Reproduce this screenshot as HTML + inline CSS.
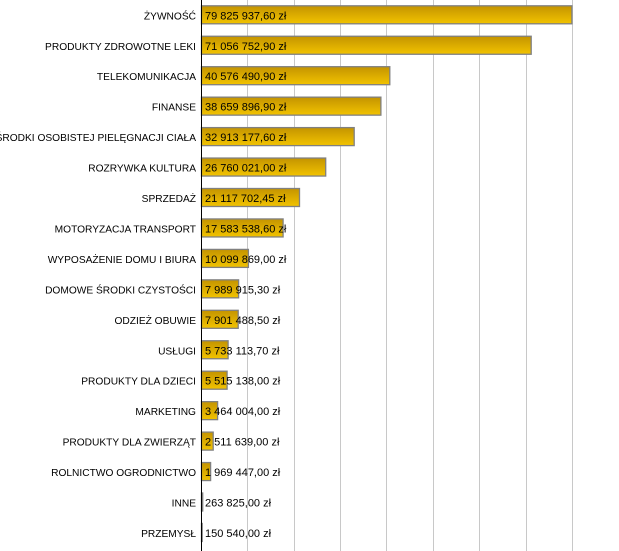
<!DOCTYPE html>
<html><head><meta charset="utf-8"><style>html,body{margin:0;padding:0;background:#fff}svg{display:block}text{font-family:"Liberation Sans",sans-serif;font-size:11px;fill:#000}.l text{font-size:10.2px}</style></head><body>
<svg width="619" height="551" xmlns="http://www.w3.org/2000/svg">
<defs><linearGradient id="g" x1="0" y1="0" x2="0" y2="1"><stop offset="0" stop-color="#c49400"/><stop offset="1" stop-color="#f2c300"/></linearGradient></defs>
<g stroke="#c8c8c8" stroke-width="1">
<line x1="247.5" y1="0" x2="247.5" y2="551"/><line x1="294.5" y1="0" x2="294.5" y2="551"/><line x1="340.5" y1="0" x2="340.5" y2="551"/><line x1="386.5" y1="0" x2="386.5" y2="551"/><line x1="433.5" y1="0" x2="433.5" y2="551"/><line x1="479.5" y1="0" x2="479.5" y2="551"/><line x1="526.5" y1="0" x2="526.5" y2="551"/><line x1="572.5" y1="0" x2="572.5" y2="551"/></g>
<g fill="url(#g)" stroke="#808080" stroke-width="1.3">
<rect x="201.5" y="5.8" width="370.4" height="18"/>
<rect x="201.5" y="36.25" width="329.7" height="18"/>
<rect x="201.5" y="66.7" width="188.3" height="18"/>
<rect x="201.5" y="97.15" width="179.4" height="18"/>
<rect x="201.5" y="127.6" width="152.7" height="18"/>
<rect x="201.5" y="158.05" width="124.2" height="18"/>
<rect x="201.5" y="188.5" width="98" height="18"/>
<rect x="201.5" y="218.95" width="81.6" height="18"/>
<rect x="201.5" y="249.4" width="46.9" height="18"/>
<rect x="201.5" y="279.85" width="37.1" height="18"/>
<rect x="201.5" y="310.3" width="36.7" height="18"/>
<rect x="201.5" y="340.75" width="26.6" height="18"/>
<rect x="201.5" y="371.2" width="25.6" height="18"/>
<rect x="201.5" y="401.65" width="16.1" height="18"/>
<rect x="201.5" y="432.1" width="11.7" height="18"/>
<rect x="201.5" y="462.55" width="9.1" height="18"/>
<rect x="201.5" y="493" width="1.2" height="18"/>
<rect x="201.5" y="523.45" width="0.7" height="18"/>
</g>
<line x1="201.5" y1="0" x2="201.5" y2="551" stroke="#000"/>
<g class="l" text-anchor="end">
<text x="196" y="19.3">ŻYWNOŚĆ</text>
<text x="196" y="49.75">PRODUKTY ZDROWOTNE LEKI</text>
<text x="196" y="80.2">TELEKOMUNIKACJA</text>
<text x="196" y="110.65">FINANSE</text>
<text x="196" y="141.1">ŚRODKI OSOBISTEJ PIELĘGNACJI CIAŁA</text>
<text x="196" y="171.55">ROZRYWKA KULTURA</text>
<text x="196" y="202">SPRZEDAŻ</text>
<text x="196" y="232.45">MOTORYZACJA TRANSPORT</text>
<text x="196" y="262.9">WYPOSAŻENIE DOMU I BIURA</text>
<text x="196" y="293.35">DOMOWE ŚRODKI CZYSTOŚCI</text>
<text x="196" y="323.8">ODZIEŻ OBUWIE</text>
<text x="196" y="354.25">USŁUGI</text>
<text x="196" y="384.7">PRODUKTY DLA DZIECI</text>
<text x="196" y="415.15">MARKETING</text>
<text x="196" y="445.6">PRODUKTY DLA ZWIERZĄT</text>
<text x="196" y="476.05">ROLNICTWO OGRODNICTWO</text>
<text x="196" y="506.5">INNE</text>
<text x="196" y="536.95">PRZEMYSŁ</text>
</g>
<g>
<text x="205" y="19.3">79 825 937,60 zł</text>
<text x="205" y="49.75">71 056 752,90 zł</text>
<text x="205" y="80.2">40 576 490,90 zł</text>
<text x="205" y="110.65">38 659 896,90 zł</text>
<text x="205" y="141.1">32 913 177,60 zł</text>
<text x="205" y="171.55">26 760 021,00 zł</text>
<text x="205" y="202">21 117 702,45 zł</text>
<text x="205" y="232.45">17 583 538,60 zł</text>
<text x="205" y="262.9">10 099 869,00 zł</text>
<text x="205" y="293.35">7 989 915,30 zł</text>
<text x="205" y="323.8">7 901 488,50 zł</text>
<text x="205" y="354.25">5 733 113,70 zł</text>
<text x="205" y="384.7">5 515 138,00 zł</text>
<text x="205" y="415.15">3 464 004,00 zł</text>
<text x="205" y="445.6">2 511 639,00 zł</text>
<text x="205" y="476.05">1 969 447,00 zł</text>
<text x="205" y="506.5">263 825,00 zł</text>
<text x="205" y="536.95">150 540,00 zł</text>
</g>
</svg>
</body></html>
